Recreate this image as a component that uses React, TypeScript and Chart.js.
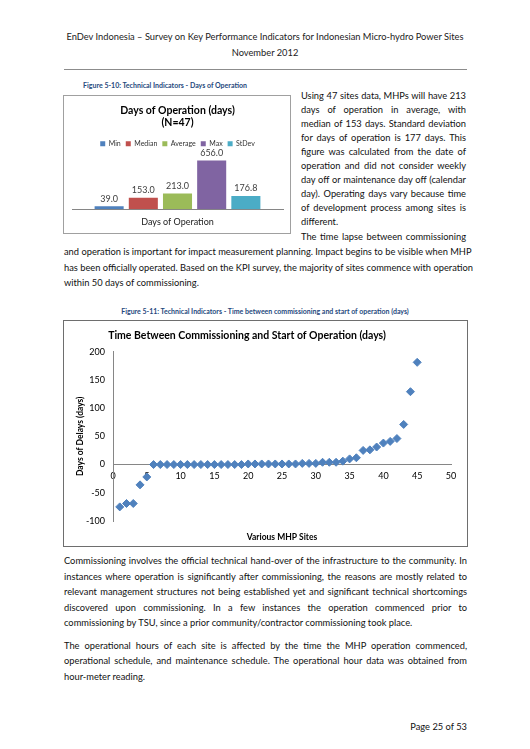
import React, { useEffect, useRef } from "react";
import { Chart, registerables } from "chart.js";

Chart.register(...registerables);

const FONT = "Lato, 'Open Sans', sans-serif";
Chart.defaults.font.family = FONT;

// Figure 5-10: days of operation
const opSeries = ["Min", "Median", "Average", "Max", "StDev"];
const opDays = [39.0, 153.0, 213.0, 656.0, 176.8];
const opColors = ["#4F81BD", "#C0504D", "#9BBB59", "#8064A2", "#4BACC6"];
const opCategory = ["Days of Operation"];

// Figure 5-11: delay between commissioning and operation, per site
const siteIds = [
  1, 2, 3, 4, 5, 6, 7, 8, 9, 10, 11, 12, 13, 14, 15, 16, 17, 18, 19, 20, 21, 22, 23,
  24, 25, 26, 27, 28, 29, 30, 31, 32, 33, 34, 35, 36, 37, 38, 39, 40, 41, 42, 43, 44, 45,
];
const delayDays = [
  -75, -69, -69, -36, -22, 0, 0, 0, 0, 0, 0, 0, 0, 0, 0, 0, 0, 0, 0, 1, 1, 1, 1,
  1, 1, 1, 1, 2, 2, 2, 4, 4, 4, 6, 10, 12, 25, 26, 31, 38, 41, 46, 71, 129, 181,
];

const barValueLabels = {
  id: "barValueLabels",
  afterDatasetsDraw(chart: any) {
    const ctx = chart.ctx as CanvasRenderingContext2D;
    ctx.save();
    ctx.font = `9px ${FONT}`;
    ctx.fillStyle = "#404040";
    ctx.textAlign = "center";
    ctx.textBaseline = "bottom";
    chart.data.datasets.forEach((ds: any, i: number) => {
      chart.getDatasetMeta(i).data.forEach((bar: any, j: number) => {
        ctx.fillText(Number(ds.data[j]).toFixed(1), bar.x, bar.y - 3);
      });
    });
    ctx.restore();
  },
};

const OperationChart = () => {
  const ref = useRef<HTMLCanvasElement>(null);
  useEffect(() => {
    const chart = new Chart(ref.current as HTMLCanvasElement, {
      type: "bar",
      data: {
        labels: opCategory,
        datasets: opSeries.map((name, i) => ({
          label: name,
          data: [opDays[i]],
          backgroundColor: opColors[i],
          categoryPercentage: 0.81,
          barPercentage: 0.85,
        })),
      },
      options: {
        responsive: false,
        animation: false,
        layout: { padding: { left: 8, right: 7, top: 0, bottom: 0 } },
        plugins: {
          title: {
            display: true,
            text: ["Days of Operation (days)", "(N=47)"],
            color: "#000",
            font: { size: 10.5, weight: "bold" },
            padding: { top: 8, bottom: 6 },
          },
          legend: {
            labels: { boxWidth: 5, boxHeight: 5, padding: 5, color: "#333", font: { size: 7 } },
          },
          tooltip: { enabled: false },
        },
        scales: {
          x: {
            grid: { display: false, drawTicks: false },
            border: { color: "#868686" },
            ticks: { color: "#222", padding: 7, font: { size: 9 } },
          },
          y: { display: false, min: 0, max: 700 },
        },
      },
      plugins: [barValueLabels],
    } as any);
    return () => chart.destroy();
  }, []);
  return <canvas ref={ref} width={226} height={138} style={{ display: "block" }} />;
};

const DelayChart = () => {
  const ref = useRef<HTMLCanvasElement>(null);
  useEffect(() => {
    const chart = new Chart(ref.current as HTMLCanvasElement, {
      type: "scatter",
      data: {
        datasets: [
          {
            label: "Delay",
            data: siteIds.map((x, i) => ({ x, y: delayDays[i] })),
            pointStyle: "rectRot",
            pointRadius: 4,
            backgroundColor: "#4F81BD",
            borderColor: "#4F81BD",
            borderWidth: 1,
          },
        ],
      },
      options: {
        responsive: false,
        animation: false,
        layout: { padding: { left: 0, right: 16, top: 0, bottom: 24 } },
        plugins: {
          legend: { display: false },
          tooltip: { enabled: false },
          title: {
            display: true,
            text: "Time Between Commissioning and Start of Operation (days)",
            color: "#000",
            font: { size: 10.5, weight: "bold" },
            padding: { top: 8, bottom: 10 },
          },
        },
        scales: {
          x: {
            type: "linear",
            position: { y: 0 },
            min: 0,
            max: 50,
            ticks: { stepSize: 5, padding: 6, color: "#000", font: { size: 9 } },
            grid: { display: false, drawTicks: false },
            border: { color: "#868686" },
            title: {
              display: true,
              text: "Various MHP Sites",
              color: "#000",
              font: { size: 8.5, weight: "bold" },
              padding: { top: 45, bottom: 0 },
            },
          },
          y: {
            min: -100,
            max: 200,
            ticks: { stepSize: 50, padding: 8, color: "#000", font: { size: 9 } },
            grid: { display: false, drawTicks: false },
            border: { color: "#868686" },
            title: {
              display: true,
              text: "Days of Delays (days)",
              color: "#000",
              font: { size: 8.5, weight: "bold" },
              padding: { top: 32, bottom: 0 },
            },
            afterFit: (s: any) => {
              s.width = 70;
            },
          },
        },
      },
    } as any);
    return () => chart.destroy();
  }, []);
  return <canvas ref={ref} width={424} height={224} />;
};

const BODY = 9.3;

const Line = ({
  y,
  text,
  x = 64,
  w = 403,
  justify = true,
}: {
  y: number;
  text: string;
  x?: number;
  w?: number;
  justify?: boolean;
}) => (
  <div
    style={{
      position: "absolute",
      left: x,
      top: y - 8,
      width: w,
      height: 16,
      lineHeight: "16px",
      fontSize: BODY,
      whiteSpace: "nowrap",
      textAlign: justify ? "justify" : "left",
      textAlignLast: justify ? "justify" : "left",
      color: "#111",
    }}
  >
    {text}
  </div>
);

const Caption = ({ y, text }: { y: number; text: string }) => (
  <div
    style={{
      position: "absolute",
      left: 0,
      width: "100%",
      top: y - 6,
      height: 12,
      lineHeight: "12px",
      fontSize: 7,
      fontWeight: "bold",
      color: "#1F497D",
      textAlign: "center",
      whiteSpace: "nowrap",
    }}
  >
    {text}
  </div>
);

export default function App() {
  const rightCol = [
    "Using 47 sites data, MHPs will have 213",
    "days of operation in average, with",
    "median of 153 days. Standard deviation",
    "for days of operation is 177 days. This",
    "figure was calculated from the date of",
    "operation and did not consider weekly",
    "day off or maintenance day off (calendar",
    "day). Operating days vary because time",
    "of development process among sites is",
  ];
  return (
    <div
      style={{
        position: "absolute",
        left: 0,
        top: 0,
        width: 530,
        height: 749,
        background: "#fff",
        fontFamily: FONT,
      }}
    >
      <div
        style={{
          position: "absolute",
          left: 0,
          width: 530,
          top: 29,
          textAlign: "center",
          fontSize: 9.3,
          lineHeight: "16px",
          color: "#222",
        }}
      >
        <div>EnDev Indonesia – Survey on Key Performance Indicators for Indonesian Micro-hydro Power Sites</div>
        <div>November 2012</div>
      </div>
      <div style={{ position: "absolute", left: 64, top: 69, width: 403, height: 1, background: "#8c8c8c" }} />

      <div style={{ position: "absolute", left: 0, width: 330, top: 0 }}>
        <Caption y={85} text="Figure 5-10: Technical Indicators - Days of Operation" />
      </div>
      <div
        style={{
          position: "absolute",
          left: 63,
          top: 95,
          width: 228,
          height: 139,
          boxSizing: "border-box",
          border: "1px solid #a0a0a0",
        }}
      />
      <div style={{ position: "absolute", left: 64, top: 96 }}>
        <OperationChart />
      </div>

      {rightCol.map((t, i) => (
        <Line key={i} y={96 + i * 14} x={301} w={165} text={t} />
      ))}
      <Line y={96 + 9 * 14} x={301} w={165} text="different." justify={false} />
      <Line y={237} x={301} w={165} text="The time lapse between commissioning" />
      <Line y={252} text="and operation is important for impact measurement planning. Impact begins to be visible when MHP" />
      <Line y={268} text="has been officially operated. Based on the KPI survey, the majority of sites commence with operation" />
      <Line y={283} text="within 50 days of commissioning." justify={false} />

      <Caption y={311} text="Figure 5-11: Technical Indicators - Time between commissioning and start of operation (days)" />
      <div
        style={{
          position: "absolute",
          left: 63,
          top: 320,
          width: 405,
          height: 227,
          boxSizing: "border-box",
          border: "1px solid #6e6e6e",
        }}
      />
      <div style={{ position: "absolute", left: 43, top: 321 }}>
        <DelayChart />
      </div>

      <Line y={561} text="Commissioning involves the official technical hand-over of the infrastructure to the community. In" />
      <Line y={577} text="instances where operation is significantly after commissioning, the reasons are mostly related to" />
      <Line y={592} text="relevant management structures not being established yet and significant technical shortcomings" />
      <Line y={608} text="discovered upon commissioning. In a few instances the operation commenced prior to" />
      <Line y={623} text="commissioning by TSU, since a prior community/contractor commissioning took place." justify={false} />
      <Line y={646} text="The operational hours of each site is affected by the time the MHP operation commenced," />
      <Line y={661} text="operational schedule, and maintenance schedule. The operational hour data was obtained from" />
      <Line y={677} text="hour-meter reading." justify={false} />

      <div
        style={{
          position: "absolute",
          right: 63,
          top: 719,
          fontSize: BODY,
          lineHeight: "16px",
          color: "#111",
        }}
      >
        Page 25 of 53
      </div>
    </div>
  );
}
